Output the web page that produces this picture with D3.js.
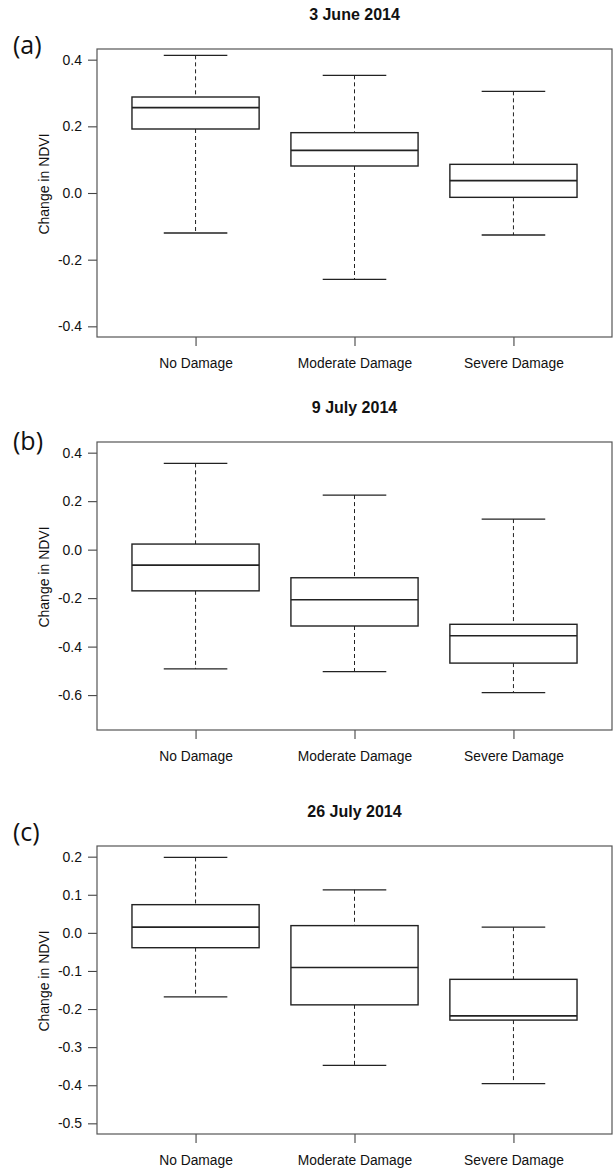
<!DOCTYPE html>
<html>
<head>
<meta charset="utf-8">
<script src="https://cdn.jsdelivr.net/npm/d3@7"></script>
<style>
  html, body { margin: 0; padding: 0; background: #fff; }
  svg { display: block; }
  text { font-family: "Liberation Sans", Arial, Helvetica, sans-serif; fill: #111; }
</style>
</head>
<body>
<svg id="chart" width="615" height="1169"></svg>
<script>
// ---- data ----
const categories = ["No Damage", "Moderate Damage", "Severe Damage"];
const panelTitles = ["3 June 2014", "9 July 2014", "26 July 2014"];
const panelLetters = ["(a)", "(b)", "(c)"];
const yLabel = "Change in NDVI";

// each row: [lower whisker, Q1, median, Q3, upper whisker]
const june3 = [
  [-0.120, 0.192, 0.256, 0.288, 0.413],
  [-0.259, 0.081, 0.128, 0.181, 0.353],
  [-0.126, -0.013, 0.037, 0.086, 0.305]
];
const july9 = [
  [-0.492, -0.170, -0.064, 0.023, 0.356],
  [-0.503, -0.315, -0.207, -0.116, 0.225],
  [-0.590, -0.468, -0.355, -0.308, 0.126]
];
const july26 = [
  [-0.168, -0.039, 0.015, 0.074, 0.198],
  [-0.348, -0.189, -0.091, 0.019, 0.113],
  [-0.396, -0.229, -0.218, -0.122, 0.015]
];

const ticksA = [-0.4, -0.2, 0.0, 0.2, 0.4];
const ticksB = [-0.6, -0.4, -0.2, 0.0, 0.2, 0.4];
const ticksC = [-0.5, -0.4, -0.3, -0.2, -0.1, 0.0, 0.1, 0.2];

const ylimA = [-0.4, 0.4];
const ylimB = [-0.7, 0.4];
const ylimC = [-0.5, 0.2];

// ---- layout ----
const panels = [
  { data: june3, ticks: ticksA, ylim: ylimA, top: 49, letterY: 54 },
  { data: july9, ticks: ticksB, ylim: ylimB, top: 442, letterY: 450 },
  { data: july26, ticks: ticksC, ylim: ylimC, top: 846, letterY: 841 }
];
const plotLeft = 97, plotRight = 612, plotH = 288;

const svg = d3.select("#chart");

const x = d3.scaleLinear().domain([0.38, 3.62]).range([plotLeft, plotRight]);
const unit = x(2) - x(1);
const boxHalf = 0.4 * unit, capHalf = 0.2 * unit;

panels.forEach((p, pi) => {
  const ext = (p.ylim[1] - p.ylim[0]) * 0.04;
  const y = d3.scaleLinear()
    .domain([p.ylim[0] - ext, p.ylim[1] + ext])
    .range([p.top + plotH, p.top]);

  const g = svg.append("g");

  // title
  g.append("text")
    .attr("x", (plotLeft + plotRight) / 2)
    .attr("y", p.top - 29)
    .attr("text-anchor", "middle")
    .style("font-weight", "bold")
    .style("font-size", "16px")
    .text(panelTitles[pi]);

  // panel letter
  g.append("text")
    .attr("x", 13)
    .attr("y", p.letterY)
    .style("font-family", "'Open Sans', 'Noto Sans', sans-serif")
    .style("font-size", "25px")
    .text(panelLetters[pi]);

  // y axis
  const yAxis = d3.axisLeft(y)
    .tickValues(p.ticks)
    .tickSize(9)
    .tickPadding(6)
    .tickFormat(v => v.toFixed(1));
  const ya = g.append("g")
    .attr("transform", `translate(${plotLeft},0)`)
    .call(yAxis);
  ya.select(".domain").remove();
  ya.selectAll(".tick line").attr("stroke", "#444").attr("stroke-width", 1.1);
  ya.selectAll(".tick text")
    .style("font-family", "'Liberation Sans', Arial, sans-serif")
    .style("font-size", "14px")
    .attr("fill", "#222");

  // x axis
  const xAxis = d3.axisBottom(x)
    .tickValues([1, 2, 3])
    .tickSize(9)
    .tickPadding(10)
    .tickFormat((d, i) => categories[i]);
  const xa = g.append("g")
    .attr("transform", `translate(0,${p.top + plotH})`)
    .call(xAxis);
  xa.select(".domain").remove();
  xa.selectAll(".tick line").attr("stroke", "#444").attr("stroke-width", 1.1);
  xa.selectAll(".tick text")
    .style("font-family", "'Liberation Sans', Arial, sans-serif")
    .style("font-size", "13.8px")
    .attr("fill", "#222")
    .attr("dy", "0")
    .attr("y", 31);

  // y label
  g.append("text")
    .attr("transform", `translate(49,${p.top + plotH / 2 - 9}) rotate(-90)`)
    .attr("text-anchor", "middle")
    .style("font-size", "14px")
    .attr("fill", "#222")
    .text(yLabel);

  // plot frame
  g.append("rect")
    .attr("x", plotLeft)
    .attr("y", p.top)
    .attr("width", plotRight - plotLeft)
    .attr("height", plotH)
    .attr("fill", "none")
    .attr("stroke", "#555")
    .attr("stroke-width", 1.2);

  // boxes
  const bx = g.selectAll(".bp").data(p.data).enter().append("g").attr("class", "bp");
  const cx = (d, i) => x(i + 1);

  // whiskers (dashed)
  bx.append("line")
    .attr("x1", cx).attr("x2", cx)
    .attr("y1", d => y(d[4])).attr("y2", d => y(d[3]))
    .attr("stroke", "#222").attr("stroke-width", 1)
    .attr("stroke-dasharray", "4,3");
  bx.append("line")
    .attr("x1", cx).attr("x2", cx)
    .attr("y1", d => y(d[1])).attr("y2", d => y(d[0]))
    .attr("stroke", "#222").attr("stroke-width", 1)
    .attr("stroke-dasharray", "4,3");
  // caps
  [0, 4].forEach(k => {
    bx.append("line")
      .attr("x1", (d, i) => x(i + 1) - capHalf)
      .attr("x2", (d, i) => x(i + 1) + capHalf)
      .attr("y1", d => y(d[k])).attr("y2", d => y(d[k]))
      .attr("stroke", "#222").attr("stroke-width", 1.3);
  });
  // box
  bx.append("rect")
    .attr("x", (d, i) => x(i + 1) - boxHalf)
    .attr("width", 2 * boxHalf)
    .attr("y", d => y(d[3]))
    .attr("height", d => y(d[1]) - y(d[3]))
    .attr("fill", "#fff")
    .attr("stroke", "#222").attr("stroke-width", 1.4);
  // median
  bx.append("line")
    .attr("x1", (d, i) => x(i + 1) - boxHalf)
    .attr("x2", (d, i) => x(i + 1) + boxHalf)
    .attr("y1", d => y(d[2])).attr("y2", d => y(d[2]))
    .attr("stroke", "#222").attr("stroke-width", 1.6);
});
</script>
</body>
</html>
